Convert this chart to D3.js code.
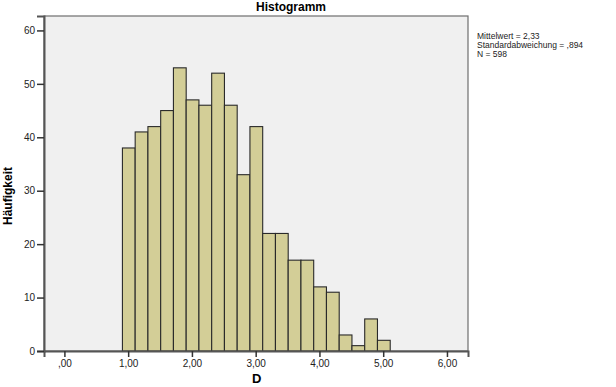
<!DOCTYPE html>
<meta charset="utf-8">
<style>
body { margin: 0; background: #fff; }
text { font-family: "Liberation Sans", Arial, sans-serif; }
</style>
<body>
  <div id="box1"></div>
</body>
<script src="https://d3js.org/d3.v7.min.js"></script>
<script>

var width = 616, height = 387;
var margin = {top: 16, right: 148, bottom: 36, left: 44};

// histogram bins: start of first bin, bin width, counts
var binStart = 0.91;
var binWidth = 0.2;
var counts = [38, 41, 42, 45, 53, 47, 46, 52, 46, 33, 42, 22, 22, 17, 17, 12, 11, 3, 1, 6, 2];

var xTicks = [0, 1, 2, 3, 4, 5, 6];
var yTicks = [0, 10, 20, 30, 40, 50, 60];
var stats = ["Mittelwert = 2,33", "Standardabweichung = ,894", "N = 598"];

var bins = counts.map((c, i) => ({x0: binStart + i * binWidth, x1: binStart + (i + 1) * binWidth, n: c}));

var x = d3.scaleLinear()
    .domain([-0.32, 6.33])
    .range([margin.left, width - margin.right]);

var y = d3.scaleLinear()
    .domain([0, 62.7])
    .range([height - margin.bottom, margin.top]);

var svg = d3.select('#box1').append("svg")
    .attr("width", width)
    .attr("height", height);

// plot background
svg.append("rect")
    .attr("x", margin.left)
    .attr("y", margin.top)
    .attr("width", width - margin.right - margin.left)
    .attr("height", height - margin.bottom - margin.top)
    .attr("fill", "#f0f0f0")
    .attr("stroke", "#6e6e6e")
    .attr("stroke-width", 1.2);

svg.append("g")
  .selectAll("rect")
  .data(bins)
  .join("rect")
    .attr("x", d => x(d.x0))
    .attr("y", d => y(d.n))
    .attr("width", d => x(d.x1) - x(d.x0))
    .attr("height", d => y(0) - y(d.n))
    .attr("fill", "#d3ce97")
    .attr("stroke", "#2a2a2a")
    .attr("stroke-width", 1.1);

var xAxis = svg.append("g")
    .attr("transform", `translate(0,${height - margin.bottom})`)
    .call(d3.axisBottom(x).tickValues(xTicks).tickSize(6).tickPadding(3)
      .tickFormat(d => d3.format(".2f")(d).replace(".", ",").replace(/^0/, "")));

var yAxis = svg.append("g")
    .attr("transform", `translate(${margin.left},0)`)
    .call(d3.axisLeft(y).tickValues(yTicks).tickSize(7).tickPadding(2).tickFormat(d3.format("d")));

[xAxis, yAxis].forEach(g => {
  g.select(".domain").attr("stroke", "#555").attr("stroke-width", 2);
  g.selectAll(".tick line").attr("stroke", "#333").attr("stroke-width", 1.5);
  g.selectAll(".tick text").attr("fill", "#222").style("font-size", "10px");
});

svg.append("text")
    .attr("x", 291)
    .attr("y", 11)
    .attr("text-anchor", "middle")
    .style("font-size", "12px")
    .style("font-weight", "bold")
    .text("Histogramm");

svg.append("text")
    .attr("x", x(3) + 1)
    .attr("y", 383)
    .attr("text-anchor", "middle")
    .style("font-size", "13px")
    .style("font-weight", "bold")
    .text("D");

svg.append("text")
    .attr("transform", "translate(12,196) rotate(-90)")
    .attr("text-anchor", "middle")
    .style("font-size", "12px")
    .style("font-weight", "bold")
    .text("Häufigkeit");

svg.selectAll("stats")
    .data(stats)
    .enter()
    .append("text")
    .attr("x", 477)
    .attr("y", (d, i) => 39 + i * 9)
    .style("font-size", "8.5px")
    .style("fill", "#222")
    .text(d => d);

</script>
